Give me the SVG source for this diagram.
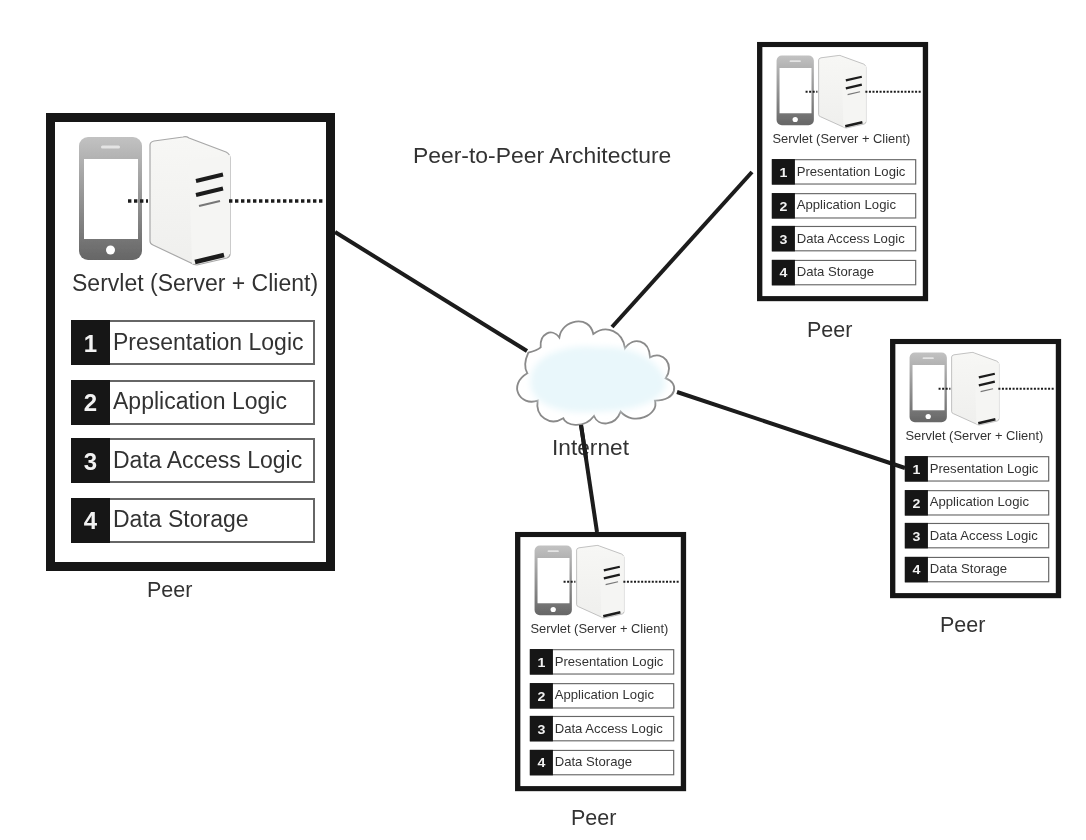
<svg xmlns="http://www.w3.org/2000/svg" xmlns:xlink="http://www.w3.org/1999/xlink" width="1086" height="840" viewBox="0 0 1086 840">
<style>
text{font-family:"Liberation Sans",Arial,sans-serif;fill:#333}
.frame{fill:#fff;stroke:#161616;stroke-width:9}
.row{fill:#fff;stroke:#666;stroke-width:2}
.num{fill:#141414}
.n{font-size:24px;font-weight:bold;fill:#f2f2f2;text-anchor:middle}
.t{font-size:23px}
.s{font-size:23px}
.sm .t{font-size:22.200px}
.sm .s{font-size:21.800px}
.lab{font-size:21.500px}
.ttl{font-size:22.900px}
.conn{stroke:#1a1a1a;stroke-width:4;fill:none;stroke-linecap:butt}
.dot{stroke:#1c1c1c;stroke-width:3.500;stroke-dasharray:3.400 2.600;fill:none}
.bar{stroke:#1c1c1c;fill:none}
</style>
<defs>
<linearGradient id="ph" x1="0" y1="0" x2="0" y2="1"><stop offset="0" stop-color="#c2c2c2"/><stop offset="1" stop-color="#666"/></linearGradient>
<linearGradient id="sv" x1="0" y1="0" x2="0" y2="1"><stop offset="0" stop-color="#f7f7f5"/><stop offset="1" stop-color="#efefed"/></linearGradient>
<filter id="soft" x="0" y="0" width="1" height="1"><feGaussianBlur stdDeviation="0.750"/></filter>
<filter id="haze" x="-20%" y="-20%" width="140%" height="140%"><feGaussianBlur stdDeviation="10"/></filter>
<g id="device">
<rect x="79" y="137" width="63" height="123" rx="9" fill="url(#ph)"/>
<rect x="84" y="159" width="54" height="80" fill="#fff"/>
<rect x="101" y="145.500" width="19" height="3" rx="1.500" fill="#e4e4e4"/>
<circle cx="110.500" cy="250" r="4.500" fill="#fff"/>
<path d="M150 145 Q150 142 154 141 L183 137 Q186 136 189 138 L226 152 Q230 154 230 158 L230 254 Q230 257 227 258 L197 265 Q194 265 191 263 L153 245 Q150 244 150 241 Z" fill="url(#sv)" stroke="#a8a8a8" stroke-width="1.200"/>
<path d="M189 161 L230 155 L230 254 L192 264 Z" fill="#f5f5f3"/>
<path class="bar" stroke-width="4" d="M196 181 L223 174.500 M196 195 L223 188.500"/>
<path class="bar" stroke-width="2" style="stroke:#777" d="M199 206 L220 201"/>
<path class="bar" stroke-width="4.500" d="M195 262 L224 255"/>
<path class="dot" d="M128 201 H148 M229 201 H323"/>
</g>
</defs>
<g filter="url(#soft)">
<rect width="1086" height="840" fill="#fff"/>
<g id="connectors">
<path class="conn" d="M335 232 L527 351"/>
<path class="conn" d="M752 172 L612 327"/>
<path class="conn" d="M677 392 L905 468"/>
<path class="conn" d="M581 425 L597 532"/>
</g>
<g id="internet">
<g transform="translate(500 310) scale(.3333)">
<path d="M85 128 C 108 122 115 118 122 112 C 118 72 155 52 178 82 C 185 30 268 12 280 72 C 320 42 368 65 375 115 C 400 78 448 90 450 142 C 490 120 525 165 497 205 C 538 218 532 272 465 272 C 478 315 400 350 362 305 C 345 350 295 350 282 318 C 250 360 195 345 190 325 C 150 350 105 320 113 272 C 60 290 22 225 82 190 C 70 170 75 150 85 128 Z" fill="#fff" stroke="#8a8a8a" stroke-width="5.500"/>
<path d="M92 205 C 100 125 220 100 300 112 C 390 105 490 150 498 225 C 480 285 380 305 280 305 C 190 315 80 285 92 205 Z" fill="#e9f7fb" filter="url(#haze)"/>
</g>
<text x="552" y="455" style="font-size:22.700px">Internet</text>
<path class="conn" d="M581 425 L586 458"/>
</g>
<text id="title" class="ttl" x="413" y="163">Peer-to-Peer Architecture</text>
<g id="peer-main">
<g>
<rect class="frame" x="50.500" y="117.500" width="280" height="449"/>
<use xlink:href="#device" href="#device"/>
<text class="s" x="72" y="291">Servlet (Server + Client)</text>
<rect class="row" x="72" y="321" width="242" height="43"/><rect class="num" x="71" y="320" width="39" height="45"/><text class="n" x="90.500" y="352">1</text><text class="t" x="113" y="350">Presentation Logic</text>
<rect class="row" x="72" y="381" width="242" height="43"/><rect class="num" x="71" y="380" width="39" height="45"/><text class="n" x="90.500" y="411">2</text><text class="t" x="113" y="409">Application Logic</text>
<rect class="row" x="72" y="439" width="242" height="43"/><rect class="num" x="71" y="438" width="39" height="45"/><text class="n" x="90.500" y="470">3</text><text class="t" x="113" y="468">Data Access Logic</text>
<rect class="row" x="72" y="499" width="242" height="43"/><rect class="num" x="71" y="498" width="39" height="45"/><text class="n" x="90.500" y="529">4</text><text class="t" x="113" y="527">Data Storage</text>
</g>
<text class="lab" x="147" y="597">Peer</text>
</g>
<g id="peer-top">
<g class="sm" transform="translate(729.800 -22) scale(.592 .566)">
<rect class="frame" x="50.500" y="117.500" width="280" height="449"/>
<use xlink:href="#device" href="#device"/>
<text class="s" x="72" y="291">Servlet (Server + Client)</text>
<rect class="row" x="72" y="321" width="242" height="43"/><rect class="num" x="71" y="320" width="39" height="45"/><text class="n" x="90.500" y="352">1</text><text class="t" x="113" y="350">Presentation Logic</text>
<rect class="row" x="72" y="381" width="242" height="43"/><rect class="num" x="71" y="380" width="39" height="45"/><text class="n" x="90.500" y="411">2</text><text class="t" x="113" y="409">Application Logic</text>
<rect class="row" x="72" y="439" width="242" height="43"/><rect class="num" x="71" y="438" width="39" height="45"/><text class="n" x="90.500" y="470">3</text><text class="t" x="113" y="468">Data Access Logic</text>
<rect class="row" x="72" y="499" width="242" height="43"/><rect class="num" x="71" y="498" width="39" height="45"/><text class="n" x="90.500" y="529">4</text><text class="t" x="113" y="527">Data Storage</text>
</g>
<text class="lab" x="807" y="337">Peer</text>
</g>
<g id="peer-right">
<g class="sm" transform="translate(862.800 275) scale(.592 .566)">
<rect class="frame" x="50.500" y="117.500" width="280" height="449"/>
<use xlink:href="#device" href="#device"/>
<text class="s" x="72" y="291">Servlet (Server + Client)</text>
<rect class="row" x="72" y="321" width="242" height="43"/><rect class="num" x="71" y="320" width="39" height="45"/><text class="n" x="90.500" y="352">1</text><text class="t" x="113" y="350">Presentation Logic</text>
<rect class="row" x="72" y="381" width="242" height="43"/><rect class="num" x="71" y="380" width="39" height="45"/><text class="n" x="90.500" y="411">2</text><text class="t" x="113" y="409">Application Logic</text>
<rect class="row" x="72" y="439" width="242" height="43"/><rect class="num" x="71" y="438" width="39" height="45"/><text class="n" x="90.500" y="470">3</text><text class="t" x="113" y="468">Data Access Logic</text>
<rect class="row" x="72" y="499" width="242" height="43"/><rect class="num" x="71" y="498" width="39" height="45"/><text class="n" x="90.500" y="529">4</text><text class="t" x="113" y="527">Data Storage</text>
</g>
<text class="lab" x="940" y="632">Peer</text>
</g>
<g id="peer-bottom">
<g class="sm" transform="translate(487.800 468) scale(.592 .566)">
<rect class="frame" x="50.500" y="117.500" width="280" height="449"/>
<use xlink:href="#device" href="#device"/>
<text class="s" x="72" y="291">Servlet (Server + Client)</text>
<rect class="row" x="72" y="321" width="242" height="43"/><rect class="num" x="71" y="320" width="39" height="45"/><text class="n" x="90.500" y="352">1</text><text class="t" x="113" y="350">Presentation Logic</text>
<rect class="row" x="72" y="381" width="242" height="43"/><rect class="num" x="71" y="380" width="39" height="45"/><text class="n" x="90.500" y="411">2</text><text class="t" x="113" y="409">Application Logic</text>
<rect class="row" x="72" y="439" width="242" height="43"/><rect class="num" x="71" y="438" width="39" height="45"/><text class="n" x="90.500" y="470">3</text><text class="t" x="113" y="468">Data Access Logic</text>
<rect class="row" x="72" y="499" width="242" height="43"/><rect class="num" x="71" y="498" width="39" height="45"/><text class="n" x="90.500" y="529">4</text><text class="t" x="113" y="527">Data Storage</text>
</g>
<text class="lab" x="571" y="825">Peer</text>
</g>
<path class="conn" d="M893 464 L905 468"/>
</g>
</svg>
